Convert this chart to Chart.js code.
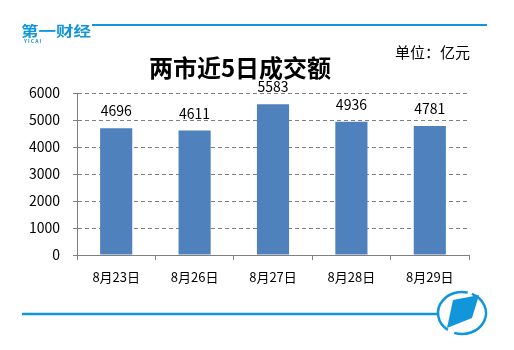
<!DOCTYPE html>
<html lang="zh-CN">
<head>
<meta charset="utf-8">
<title>两市近5日成交额</title>
<script src="https://cdn.jsdelivr.net/npm/chart.js@4/dist/chart.umd.min.js"></script>
<style>
  html, body { margin: 0; padding: 0; background: #ffffff; }
  #wrap { width: 514px; height: 350px; position: relative; }
</style>
</head>
<body>
<div id="wrap"><canvas id="c" width="514" height="350"></canvas></div>
<script>
// Trading days and combined turnover of both exchanges (亿元)
const categories = ['8月23日', '8月26日', '8月27日', '8月28日', '8月29日'];
const turnover = [4696, 4611, 5583, 4936, 4781];
const yTicks = [0, 1000, 2000, 3000, 4000, 5000, 6000];

const titleText = '两市近5日成交额';
const unitText = '单位：亿元';
const brandText = '第一财经';
const brandSub = 'Y I C A I';

const FONT = '"Noto Sans CJK SC", "Microsoft YaHei", sans-serif';
const BRAND_BLUE = '#1296db';
const BAR_BLUE = '#4f81bd';
const GRID_GREY = '#7f7f7f';

// Page decorations: header rule, brand mark, title, unit, footer rule and emblem
const decorPlugin = {
  id: 'decor',
  afterDraw(chart) {
    const ctx = chart.ctx;
    ctx.save();

    // header rule
    ctx.strokeStyle = BRAND_BLUE;
    ctx.lineWidth = 2;
    ctx.beginPath();
    ctx.moveTo(22, 25);
    ctx.lineTo(487, 25);
    ctx.stroke();

    // brand mark
    ctx.fillStyle = '#ffffff';
    ctx.fillRect(20, 22, 72, 23);
    ctx.save();
    ctx.translate(21, 31);
    ctx.scale(1.25, 1);
    ctx.fillStyle = BRAND_BLUE;
    ctx.font = 'bold 14px ' + FONT;
    ctx.textBaseline = 'middle';
    ctx.textAlign = 'left';
    ctx.fillText(brandText, 0, 0);
    ctx.restore();
    ctx.fillStyle = BRAND_BLUE;
    ctx.font = 'bold 5px ' + FONT;
    ctx.textBaseline = 'middle';
    ctx.textAlign = 'left';
    ctx.fillText(brandSub, 24, 41);

    // title
    ctx.fillStyle = '#000000';
    ctx.font = 'bold 24px ' + FONT;
    ctx.textAlign = 'center';
    ctx.textBaseline = 'middle';
    ctx.fillText(titleText, 240, 68);

    // unit
    ctx.font = '15px ' + FONT;
    ctx.textAlign = 'left';
    ctx.fillText(unitText, 395, 52);

    // footer rule
    ctx.strokeStyle = BRAND_BLUE;
    ctx.lineWidth = 2.5;
    ctx.beginPath();
    ctx.moveTo(22, 314);
    ctx.lineTo(438, 314);
    ctx.stroke();

    // footer emblem: broken ellipse with a slanted tile
    const cx = 462, cy = 313;
    ctx.lineWidth = 2.5;
    ctx.beginPath();
    ctx.ellipse(cx, cy, 24, 21, 0, -1.15, 1.9, false);
    ctx.stroke();
    ctx.beginPath();
    ctx.ellipse(cx, cy, 24, 21, 0, 2.2, 4.95, false);
    ctx.stroke();
    ctx.fillStyle = BRAND_BLUE;
    ctx.beginPath();
    ctx.moveTo(453, 300);
    ctx.lineTo(479, 295);
    ctx.lineTo(472, 318);
    ctx.lineTo(447, 328);
    ctx.closePath();
    ctx.fill();

    ctx.restore();
  }
};

// Value labels above each bar, taken from the bar's own data value
const valueLabels = {
  id: 'valueLabels',
  afterDatasetsDraw(chart) {
    const ctx = chart.ctx;
    const meta = chart.getDatasetMeta(0);
    const data = chart.data.datasets[0].data;
    ctx.save();
    ctx.fillStyle = '#000000';
    ctx.font = '14px ' + FONT;
    ctx.textAlign = 'center';
    ctx.textBaseline = 'alphabetic';
    meta.data.forEach((bar, i) => {
      const p = bar.getProps(['x', 'y'], true);
      ctx.fillText(String(data[i]), p.x, p.y - 12);
    });
    ctx.restore();
  }
};

new Chart(document.getElementById('c'), {
  type: 'bar',
  data: {
    labels: categories,
    datasets: [{
      data: turnover,
      backgroundColor: BAR_BLUE,
      borderWidth: 0,
      categoryPercentage: 1,
      barPercentage: 0.41
    }]
  },
  options: {
    responsive: false,
    animation: false,
    devicePixelRatio: 1,
    layout: { padding: { left: 0, top: 93, right: 45, bottom: 0 } },
    plugins: {
      legend: { display: false },
      title: { display: false },
      tooltip: { enabled: false }
    },
    scales: {
      x: {
        grid: {
          offset: true,
          drawOnChartArea: false,
          drawTicks: true,
          tickLength: 5,
          color: GRID_GREY,
          lineWidth: 1
        },
        border: { display: true, color: GRID_GREY, width: 1 },
        ticks: {
          color: '#000000',
          font: { family: FONT, size: 13 },
          padding: 9,
          maxRotation: 0
        },
        afterFit(scale) { scale.height = 95; }
      },
      y: {
        min: 0,
        max: 6000,
        afterBuildTicks(scale) { scale.ticks = yTicks.map(v => ({ value: v })); },
        grid: {
          color: GRID_GREY,
          lineWidth: 1,
          drawTicks: true,
          tickLength: 4,
          tickBorderDash: []
        },
        border: { display: true, color: GRID_GREY, width: 1, dash: [4, 3] },
        ticks: {
          color: '#000000',
          font: { family: FONT, size: 14 },
          padding: 13,
          callback: (v) => String(v)
        },
        afterFit(scale) { scale.width = 77; }
      }
    }
  },
  plugins: [valueLabels, decorPlugin]
});
</script>
</body>
</html>
